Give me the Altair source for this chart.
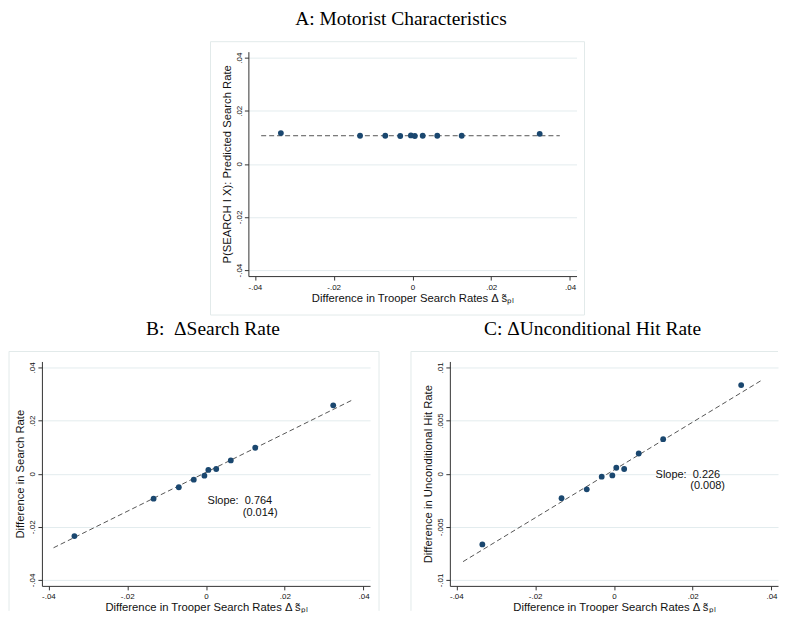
import altair as alt
import pandas as pd

# ---- data ----
x_bins = [-0.0334, -0.0133, -0.0069, -0.0031, -0.0004, 0.0006, 0.0026, 0.0063, 0.0125, 0.0323]
pred_search = [0.0116, 0.0106, 0.0106, 0.0105, 0.0107, 0.0105, 0.0106, 0.0106, 0.0106, 0.0113]
diff_search = [-0.0235, -0.0094, -0.0051, -0.00225, -0.00075, 0.0014, 0.00175, 0.0050, 0.00975, 0.02575]
diff_hit = [-0.00666, -0.00231, -0.00147, -0.00028, -0.00016, 0.00056, 0.00044, 0.0019, 0.00325, 0.00834]

fit_x_a = [-0.0384, 0.0374]
fit_y_a = [0.0106, 0.0106]
fit_x_b = [-0.0387, 0.0375]
fit_y_b = [-0.0279, 0.0280]
fit_x_c = [-0.0383, 0.0373]
fit_y_c = [-0.00828, 0.00875]

x_ticks = [-0.04, -0.02, 0, 0.02, 0.04]
x_tick_labels = ["-.04", "-.02", "0", ".02", ".04"]
y_ticks_ab = [-0.04, -0.02, 0, 0.02, 0.04]
y_tick_labels_ab = ["-.04", "-.02", "0", ".02", ".04"]
y_ticks_c = [-0.01, -0.005, 0, 0.005, 0.01]
y_tick_labels_c = ["-.01", "-.005", "0", ".005", ".01"]

NB = "\u00a0"
notes_b_text = ["Slope:" + NB + NB + "0.764", "(0.014)"]
notes_b_x = [0.0004, 0.00935]
notes_b_y = [-0.0104, -0.01475]
notes_c_text = ["Slope:" + NB + NB + "0.226", "(0.008)"]
notes_c_x = [0.01057, 0.01937]
notes_c_y = [-0.00016, -0.00119]

x_title = "Difference in Trooper Search Rates \u0394 s\u0303\u209a\u2097"
title_a = "A:" + NB + "Motorist Characteristics"
title_b = "B:" + NB + NB + "\u0394Search Rate"
title_c = "C:" + NB + "\u0394Unconditional Hit Rate"
ytitle_a = "P(SEARCH I X): Predicted Search Rate"
ytitle_b = "Difference in Search Rate"
ytitle_c = "Difference in Unconditional Hit Rate"

W, H = 329, 225
X_DOM = [-0.04165, 0.04165]
FRAME = "#e2eaea"
ONE = pd.DataFrame({"k": [0]})


def label_expr(vals, labels):
    parts = [f"abs(datum.value - ({v})) < 1e-6 ? '{l}'" for v, l in zip(vals, labels)]
    return " : ".join(parts) + " : ''"


def vrule(x, y1, y2):
    return alt.Chart(ONE).mark_rule(color=FRAME, strokeWidth=1).encode(
        x=alt.value(x), y=alt.value(y1), y2=alt.value(y2))


def hrule(x1, x2, y, color=FRAME):
    return alt.Chart(ONE).mark_rule(color=color, strokeWidth=1).encode(
        x=alt.value(x1), x2=alt.value(x2), y=alt.value(y))


def panel(y_vals, fit_x, fit_y, y_dom, y_ticks, y_labels, y_title, title, dx, toff,
          frame, notes=None):
    pts = pd.DataFrame({"x": x_bins, "y": y_vals})
    fit = pd.DataFrame({"x": fit_x, "y": fit_y})
    xs = alt.Scale(domain=X_DOM, nice=False, zero=False)
    ys = alt.Scale(domain=y_dom, nice=False, zero=False)
    xax = alt.Axis(values=x_ticks, labelExpr=label_expr(x_ticks, x_tick_labels),
                   title=x_title, grid=False, labelFlush=False, labelOverlap=False,
                   labelPadding=3, titlePadding=1)
    yax = alt.Axis(values=y_ticks, labelExpr=label_expr(y_ticks, y_labels),
                   title=y_title, grid=True, labelAngle=270, labelAlign="center",
                   labelBaseline="bottom", labelFlush=False, labelOverlap=False,
                   labelPadding=1, titlePadding=3)

    line = alt.Chart(fit).mark_line(strokeDash=[5, 3], color="#555555", strokeWidth=1).encode(
        x=alt.X("x:Q", scale=xs, axis=xax),
        y=alt.Y("y:Q", scale=ys, axis=yax),
    )
    dots = alt.Chart(pts).mark_circle(size=34, color="#1a476f", opacity=1).encode(
        x=alt.X("x:Q", scale=xs, axis=xax),
        y=alt.Y("y:Q", scale=ys, axis=yax),
    )
    layers = list(frame) + [line, dots]
    if notes is not None:
        nd = pd.DataFrame({"x": notes[0], "y": notes[1], "t": notes[2]})
        txt = alt.Chart(nd).mark_text(align="left", baseline="middle", font="Liberation Sans",
                                      fontSize=11, color="#111111").encode(
            x=alt.X("x:Q", scale=xs, axis=xax),
            y=alt.Y("y:Q", scale=ys, axis=yax),
            text="t:N",
        )
        layers.append(txt)
    return alt.layer(*layers).properties(
        width=W, height=H,
        title=alt.TitleParams(title, font="Liberation Serif", fontSize=19.5, fontWeight="normal",
                              color="black", anchor="middle", frame="group", dx=dx, offset=toff),
    )


frame_a = [alt.Chart(ONE).mark_rect(fillOpacity=0, stroke=FRAME, strokeWidth=1).encode(
    x=alt.value(-38), x2=alt.value(W + 8), y=alt.value(-10), y2=alt.value(H + 39))]
frame_b = [vrule(-33, -10, H + 25), hrule(-33, W + 9, -10), vrule(W + 9, -10, H + 25)]
frame_c = [vrule(-39, -10, H + 25), hrule(-39, W, -10)]

pa = panel(pred_search, fit_x_a, fit_y_a, [-0.04225, 0.04225], y_ticks_ab, y_tick_labels_ab,
           ytitle_a, title_a, -11.5, 11.6, frame_a)
pb = panel(diff_search, fit_x_b, fit_y_b, [-0.04225, 0.04225], y_ticks_ab, y_tick_labels_ab,
           ytitle_b, title_b, 7, 12, frame_b, (notes_b_x, notes_b_y, notes_b_text))
pc = panel(diff_hit, fit_x_c, fit_y_c, [-0.010563, 0.010563], y_ticks_c, y_tick_labels_c,
           ytitle_c, title_c, -21.5, 12, frame_c, (notes_c_x, notes_c_y, notes_c_text))

# blank (white) spacer that pushes panel A to the right
SP = 167
spacer = hrule(0, SP, 0, color="white").properties(width=SP, height=1)

row1 = alt.hconcat(spacer, pa, spacing=0).resolve_scale(x="independent", y="independent")
row2 = alt.hconcat(pb, pc, spacing=30).resolve_scale(x="independent", y="independent")
chart = alt.vconcat(row1, row2, spacing=2.6).resolve_scale(
    x="independent", y="independent"
).properties(
    padding={"left": 0, "top": 0, "right": 0, "bottom": -1}
).configure(background="white").configure_view(stroke=None).configure_axis(
    domainColor="#333333", domainWidth=1, tickColor="#333333", tickSize=4, tickWidth=1,
    labelFont="Liberation Sans", labelFontSize=8, labelColor="#111111",
    titleFont="Liberation Sans", titleFontSize=11.3, titleFontWeight="normal", titleColor="#111111",
    gridColor="#e3ecee", gridWidth=1,
)

chart.save("out.html", embed_options={"renderer": "svg", "actions": False})
